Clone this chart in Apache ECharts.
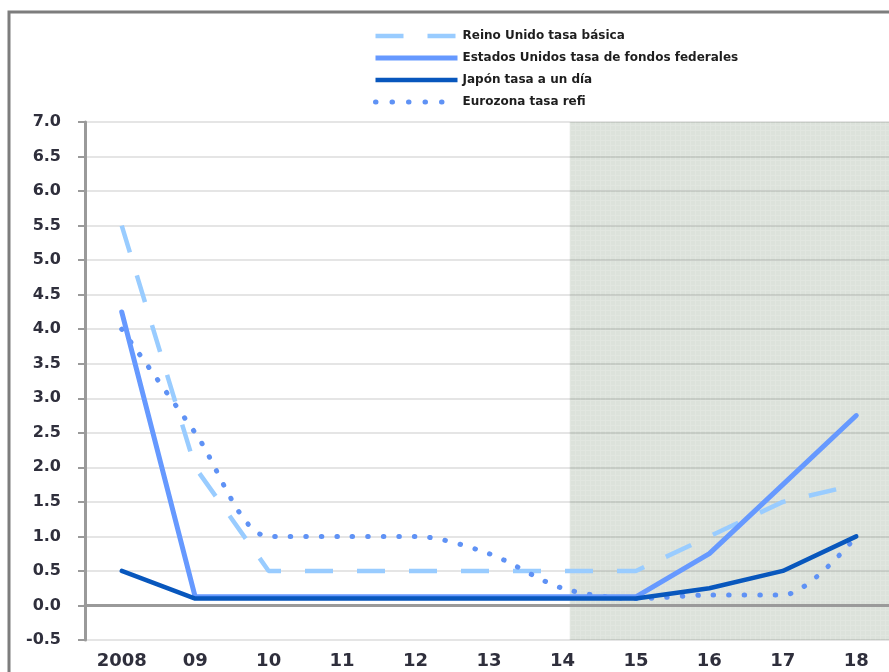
<!DOCTYPE html>
<html>
<head>
<meta charset="utf-8">
<script src="https://cdn.jsdelivr.net/npm/echarts@6/dist/echarts.min.js"></script>
<style>
  html, body { margin: 0; padding: 0; background: #fff; }
  #chart { width: 889px; height: 672px; }
</style>
</head>
<body>
<div id="chart"></div>
<script>
// Policy rates by year (start of year), with projections from 2014 on
const years = ['2008', '09', '10', '11', '12', '13', '14', '15', '16', '17', '18'];
const ukBankRate   = [5.5, 2.0, 0.5, 0.5, 0.5, 0.5, 0.5, 0.5, 1.0, 1.5, 1.75];
const usFedFunds   = [4.25, 0.125, 0.125, 0.125, 0.125, 0.125, 0.125, 0.125, 0.75, 1.75, 2.75];
const japanCall    = [0.5, 0.1, 0.1, 0.1, 0.1, 0.1, 0.1, 0.1, 0.25, 0.5, 1.0];
const euroRefi     = [4.0, 2.5, 1.0, 1.0, 1.0, 0.75, 0.25, 0.1, 0.15, 0.15, 1.0];
const seriesNames  = [
  'Reino Unido tasa básica',
  'Estados Unidos tasa de fondos federales',
  'Japón tasa a un día',
  'Eurozona tasa refi'
];
// Projection band, in category-index units (band edges at -0.5 and 10.5)
const projectionBand = [6.1, 10.5];
const yTicks = { min: -0.5, max: 7.0, step: 0.5 };

// Line styles shared by the plot and the legend
const styles = [
  { color: '#99ccff', width: 4.5, type: [28, 24], cap: 'butt' },
  { color: '#6699ff', width: 5, type: 'solid', cap: 'round', join: 'round' },
  { color: '#0857bd', width: 4.5, type: 'solid', cap: 'round', join: 'round' },
  { color: '#5f92f5', width: 5, type: [0.5, 15], cap: 'round' }
];

// Small tiled texture for the projection band
function makeHatch() {
  const c = document.createElement('canvas');
  c.width = 5; c.height = 5;
  const g = c.getContext('2d');
  g.fillStyle = '#dce2db';
  g.fillRect(0, 0, 5, 5);
  g.fillStyle = '#e1e6e0';
  g.fillRect(0, 0, 1, 5);
  g.fillRect(0, 0, 5, 1);
  return c;
}

const labelColor = '#2f2f3c';
const chart = echarts.init(document.getElementById('chart'), null, { renderer: 'canvas' });

chart.setOption({
  animation: false,
  backgroundColor: '#ffffff',
  grid: {
    left: 85, top: 122, width: 808, height: 518,
    containLabel: false,
    outerBoundsMode: 'none'
  },
  legend: {
    orient: 'vertical',
    left: 368,
    top: 24,
    itemWidth: 82,
    itemHeight: 6,
    itemGap: 8,
    data: seriesNames.map((name, i) => ({
      name,
      itemStyle: { opacity: 0 },
      lineStyle: {
        color: styles[i].color,
        width: styles[i].width,
        type: i === 3 ? [0.5, 16] : styles[i].type,
        cap: i === 3 ? 'round' : 'butt'
      }
    })),
    textStyle: {
      fontFamily: 'DejaVu Sans',
      fontWeight: 'bold',
      fontSize: 12,
      lineHeight: 14,
      color: '#1e1e1e'
    }
  },
  xAxis: [
    {
      type: 'category',
      data: years,
      boundaryGap: true,
      z: 1,
      axisLine: { onZero: true, lineStyle: { color: '#9a9a9a', width: 3 } },
      axisTick: { show: false },
      axisLabel: {
        margin: 12,
        color: labelColor,
        fontFamily: 'DejaVu Sans',
        fontWeight: 'bold',
        fontSize: 18
      },
      splitLine: { show: false }
    },
    {
      type: 'value',
      min: -0.5,
      max: 10.5,
      show: false
    }
  ],
  yAxis: {
    type: 'value',
    min: yTicks.min,
    max: yTicks.max,
    interval: yTicks.step,
    z: 1,
    axisLine: { show: true, onZero: false, lineStyle: { color: '#9a9a9a', width: 3 } },
    axisTick: { show: true, inside: false, length: 7, lineStyle: { color: '#9a9a9a', width: 2 } },
    axisLabel: {
      margin: 24,
      color: labelColor,
      fontFamily: 'DejaVu Sans',
      fontWeight: 'bold',
      fontSize: 16,
      formatter: v => v.toFixed(1)
    },
    splitLine: { show: true, lineStyle: { color: 'rgba(0,0,0,0.1)', width: 2 } }
  },
  graphic: [
    {
      type: 'polyline',
      shape: { points: [[9, 672], [9, 12], [889, 12]] },
      style: { stroke: '#7d7d7d', lineWidth: 3, fill: null },
      z: 10
    }
  ],
  series: [
    {
      name: 'band',
      type: 'line',
      xAxisIndex: 1,
      data: [[projectionBand[0], null]],
      symbol: 'none',
      silent: true,
      z: 0,
      markArea: {
        silent: true,
        z: 0,
        itemStyle: { color: { image: makeHatch(), repeat: 'repeat' }, opacity: 1 },
        data: [[
          { xAxis: projectionBand[0], yAxis: yTicks.max },
          { xAxis: projectionBand[1], yAxis: yTicks.min }
        ]]
      }
    },
    {
      name: seriesNames[0],
      type: 'line',
      data: ukBankRate,
      symbol: 'none',
      z: 3,
      color: styles[0].color,
      lineStyle: styles[0]
    },
    {
      name: seriesNames[1],
      type: 'line',
      data: usFedFunds,
      symbol: 'none',
      z: 4,
      color: styles[1].color,
      lineStyle: styles[1]
    },
    {
      name: seriesNames[2],
      type: 'line',
      data: japanCall,
      symbol: 'none',
      z: 5,
      color: styles[2].color,
      lineStyle: styles[2]
    },
    {
      name: seriesNames[3],
      type: 'line',
      data: euroRefi,
      symbol: 'none',
      smooth: 0.3,
      z: 3,
      color: styles[3].color,
      lineStyle: styles[3]
    }
  ]
});
</script>
</body>
</html>
